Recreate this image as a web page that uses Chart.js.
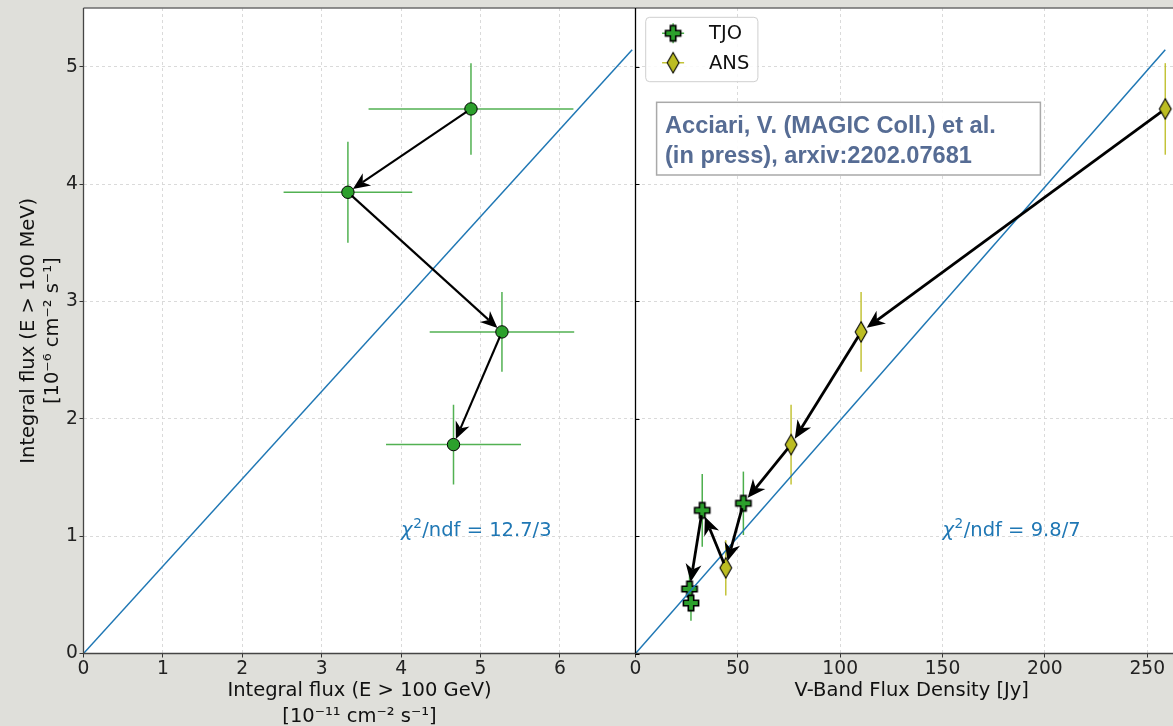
<!DOCTYPE html>
<html>
<head>
<meta charset="utf-8">
<script src="https://cdn.jsdelivr.net/npm/chart.js@4.4.1/dist/chart.umd.min.js"></script>
<style>
  html, body { margin: 0; padding: 0; background: #dfdfda; overflow: hidden; }
  #wrap { position: relative; width: 1173px; height: 726px; overflow: hidden; background: #dfdfda; }
  #wrap canvas { position: absolute; left: 0; top: 0; }
</style>
</head>
<body>
<div id="wrap">
  <canvas id="gammaChart" width="1173" height="730"></canvas>
  <canvas id="opticalChart" width="1190" height="730"></canvas>
</div>
<script>
// ---- HE (E > 100 MeV) flux vs VHE (E > 100 GeV) flux ----
const vheFlux    = [4.88, 3.33, 5.27, 4.66];
const vheFluxErr = [1.29, 0.81, 0.91, 0.85];
const heFlux     = [4.64, 3.93, 2.74, 1.78];
const heFluxErr  = [0.39, 0.43, 0.34, 0.34];
const gammaSequence = [0, 1, 2, 3];

// ---- HE flux vs optical V-band flux density ----
const tjoVband  = [26.4, 27.1, 32.6, 52.7];
const tjoHe     = [0.55, 0.43, 1.22, 1.28];
const tjoHeErr  = [0.19, 0.15, 0.31, 0.27];
const ansVband  = [44.1, 76.0, 110.2, 258.8];
const ansHe     = [0.73, 1.78, 2.74, 4.64];
const ansHeErr  = [0.235, 0.34, 0.34, 0.39];
const opticalSequence = [['ANS', 3], ['ANS', 2], ['ANS', 1], ['TJO', 3], ['ANS', 0], ['TJO', 2], ['TJO', 0]];

// linear correlation lines
const fitGammaX   = [0, 6.91];
const fitGammaY   = [0, 5.145];
const fitOpticalX = [0, 258.8];
const fitOpticalY = [0, 5.145];

// axis ticks
const heTicks       = [0, 1, 2, 3, 4, 5];
const vheTicks      = [0, 1, 2, 3, 4, 5, 6];
const vbandTicks    = [0, 50, 100, 150, 200, 250];

// fit quality labels
const chiGamma   = { x: 4.0, y: 1.0, value: '12.7/3' };
const chiOptical = { x: 150, y: 1.0, value: '9.8/7' };

const refText = ['Acciari, V. (MAGIC Coll.) et al.', '(in press), arxiv:2202.07681'];

// ---------------------------------------------------------------
const GREEN = '#2ca02c', OLIVE = '#bcbd22', BLUE = '#1f77b4';
const FONT = 'DejaVu Sans';
Chart.defaults.font.family = FONT;

function plusMarker() {
  const c = document.createElement('canvas');
  c.width = c.height = 20;
  const g = c.getContext('2d');
  const m = 10, a = 7.6, t = 2.7;
  g.beginPath();
  g.moveTo(m - t, m - a); g.lineTo(m + t, m - a); g.lineTo(m + t, m - t);
  g.lineTo(m + a, m - t); g.lineTo(m + a, m + t); g.lineTo(m + t, m + t);
  g.lineTo(m + t, m + a); g.lineTo(m - t, m + a); g.lineTo(m - t, m + t);
  g.lineTo(m - a, m + t); g.lineTo(m - a, m - t); g.lineTo(m - t, m - t);
  g.closePath();
  g.fillStyle = GREEN; g.fill();
  g.lineWidth = 1.6; g.strokeStyle = '#000'; g.lineJoin = 'miter'; g.stroke();
  return c;
}
function diamondMarker() {
  const c = document.createElement('canvas');
  c.width = 16; c.height = 24;
  const g = c.getContext('2d');
  const cx = 8, cy = 12, w = 5.9, h = 10.2;
  g.beginPath();
  g.moveTo(cx, cy - h); g.lineTo(cx + w, cy); g.lineTo(cx, cy + h); g.lineTo(cx - w, cy);
  g.closePath();
  g.fillStyle = OLIVE; g.fill();
  g.lineWidth = 1.1; g.strokeStyle = '#000'; g.lineJoin = 'miter'; g.stroke();
  return c;
}
const plusImg = plusMarker();
const diamondImg = diamondMarker();

// white plotting area
const areaBackground = {
  id: 'areaBackground',
  beforeDraw(chart) {
    const { ctx, chartArea: a } = chart;
    ctx.save();
    ctx.fillStyle = '#ffffff';
    ctx.fillRect(a.left, a.top, a.right - a.left, a.bottom - a.top);
    ctx.restore();
  }
};

// error bars from the dataset's errX / errY arrays
const errorBars = {
  id: 'errorBars',
  beforeDatasetsDraw(chart) {
    const { ctx } = chart;
    const xs = chart.scales.x, ys = chart.scales.y;
    chart.data.datasets.forEach(ds => {
      if (!ds.errX && !ds.errY) return;
      ctx.save();
      ctx.strokeStyle = ds.errColor;
      ctx.lineWidth = 1.5;
      ds.data.forEach((p, i) => {
        const cx = xs.getPixelForValue(p.x), cy = ys.getPixelForValue(p.y);
        ctx.beginPath();
        if (ds.errX) {
          ctx.moveTo(xs.getPixelForValue(p.x - ds.errX[i]), cy);
          ctx.lineTo(xs.getPixelForValue(p.x + ds.errX[i]), cy);
        }
        if (ds.errY) {
          ctx.moveTo(cx, ys.getPixelForValue(p.y - ds.errY[i]));
          ctx.lineTo(cx, ys.getPixelForValue(p.y + ds.errY[i]));
        }
        ctx.stroke();
      });
      ctx.restore();
    });
  }
};

function drawArrow(ctx, p0, p1, o) {
  const dx = p1[0] - p0[0], dy = p1[1] - p0[1];
  const L = Math.hypot(dx, dy), ux = dx / L, uy = dy / L, nx = -uy, ny = ux;
  const sx = p0[0] + ux * o.shrinkA, sy = p0[1] + uy * o.shrinkA;
  const tx = p1[0] - ux * o.shrinkB, ty = p1[1] - uy * o.shrinkB;
  const bx = tx - ux * o.headLength, by = ty - uy * o.headLength;
  const kx = tx - ux * o.headLength * 0.7, ky = ty - uy * o.headLength * 0.7;
  ctx.beginPath();
  ctx.moveTo(sx, sy); ctx.lineTo(kx, ky);
  ctx.lineWidth = o.width; ctx.strokeStyle = '#000'; ctx.lineCap = 'butt';
  ctx.stroke();
  ctx.beginPath();
  ctx.moveTo(tx, ty);
  ctx.lineTo(bx + nx * o.headWidth, by + ny * o.headWidth);
  ctx.lineTo(kx, ky);
  ctx.lineTo(bx - nx * o.headWidth, by - ny * o.headWidth);
  ctx.closePath();
  ctx.fillStyle = '#000';
  ctx.fill();
}

// arrows following the time order of the points
const timeArrows = {
  id: 'timeArrows',
  afterDatasetsDraw(chart, args, opts) {
    const { ctx } = chart;
    const xs = chart.scales.x, ys = chart.scales.y;
    const pts = opts.path.map(([label, i]) => {
      const ds = chart.data.datasets.find(d => d.label === label);
      const p = ds.data[i];
      return [xs.getPixelForValue(p.x), ys.getPixelForValue(p.y)];
    });
    ctx.save();
    for (let k = 0; k + 1 < pts.length; k++) drawArrow(ctx, pts[k], pts[k + 1], opts);
    ctx.restore();
  }
};

// chi-square annotation
const chiLabel = {
  id: 'chiLabel',
  afterDatasetsDraw(chart, args, opts) {
    const { ctx } = chart;
    const x = chart.scales.x.getPixelForValue(opts.x);
    const y = chart.scales.y.getPixelForValue(opts.y);
    ctx.save();
    ctx.fillStyle = BLUE;
    ctx.textAlign = 'left';
    ctx.textBaseline = 'alphabetic';
    ctx.font = `oblique 19.5px "${FONT}"`;
    ctx.fillText('χ', x, y);
    let w = ctx.measureText('χ').width + 0.5;
    ctx.font = `13.6px "${FONT}"`;
    ctx.fillText('2', x + w, y - 8.5);
    w += ctx.measureText('2').width + 0.5;
    ctx.font = `19.5px "${FONT}"`;
    ctx.fillText('/ndf = ' + opts.value, x + w, y);
    ctx.restore();
  }
};

// axes frame
const frame = {
  id: 'frame',
  afterDraw(chart, args, opts) {
    const { ctx, chartArea: a } = chart;
    ctx.save();
    ctx.lineWidth = 1.6; ctx.strokeStyle = '#6b6b6b';
    ctx.beginPath(); ctx.moveTo(a.left, a.top); ctx.lineTo(a.right, a.top); ctx.stroke();
    ctx.lineWidth = 1.3; ctx.strokeStyle = '#454545';
    ctx.beginPath(); ctx.moveTo(a.left, a.bottom); ctx.lineTo(a.right, a.bottom); ctx.stroke();
    ctx.strokeStyle = opts.leftColor; ctx.lineWidth = opts.leftWidth;
    ctx.beginPath(); ctx.moveTo(a.left, a.top); ctx.lineTo(a.left, a.bottom); ctx.stroke();
    if (opts.innerTicks) {
      ctx.strokeStyle = '#000'; ctx.lineWidth = 1;
      opts.innerTicks.forEach(v => {
        const y = Math.round(chart.scales.y.getPixelForValue(v)) + 0.5;
        ctx.beginPath(); ctx.moveTo(a.left, y); ctx.lineTo(a.left + 4, y); ctx.stroke();
      });
    }
    ctx.restore();
  }
};

// legend and reference box drawn inside the optical panel
const panelNotes = {
  id: 'panelNotes',
  afterDraw(chart) {
    const { ctx, chartArea: a } = chart;
    ctx.save();
    // legend
    const lx = a.left + 10.2, ly = a.top + 9.3, lw = 112.2, lh = 64.4;
    ctx.beginPath(); ctx.roundRect(lx, ly, lw, lh, 4);
    ctx.fillStyle = 'rgba(255,255,255,0.85)'; ctx.fill();
    ctx.strokeStyle = '#cfcfcf'; ctx.lineWidth = 1; ctx.stroke();
    const entries = chart.data.datasets.filter(d => d.legendImage);
    entries.forEach((d, k) => {
      const mx = lx + 27.4, my = ly + 16 + k * 29.4;
      ctx.strokeStyle = d.errColor; ctx.lineWidth = 1.4;
      ctx.beginPath();
      ctx.moveTo(mx - 11, my); ctx.lineTo(mx + 11, my);
      ctx.moveTo(mx, my - 10); ctx.lineTo(mx, my + 10);
      ctx.stroke();
      ctx.drawImage(d.legendImage, mx - d.legendImage.width / 2, my - d.legendImage.height / 2);
      ctx.fillStyle = '#111';
      ctx.font = `19.5px "${FONT}"`;
      ctx.textAlign = 'left'; ctx.textBaseline = 'middle';
      ctx.fillText(d.label, lx + 63.3, my + 1);
    });
    // reference box
    const bx = a.left + 21.1, by = 102.3, bw = 383.8, bh = 72.7;
    ctx.fillStyle = 'rgba(255,255,255,0.9)';
    ctx.fillRect(bx, by, bw, bh);
    ctx.strokeStyle = '#a9a9a9'; ctx.lineWidth = 1.5;
    ctx.strokeRect(bx, by, bw, bh);
    ctx.fillStyle = '#566c94';
    ctx.font = `bold 23.6px "Liberation Sans", Arial, sans-serif`;
    ctx.textAlign = 'left'; ctx.textBaseline = 'alphabetic';
    refText.forEach((t, k) => ctx.fillText(t, bx + 8.4, 132.7 + k * 30));
    ctx.restore();
  }
};

function tickFrom(list) {
  return scale => { scale.ticks = list.map(v => ({ value: v })); };
}
const tickFont = { family: FONT, size: 18.7 };
const titleFont = { family: FONT, size: 19.5, lineHeight: 26 / 19.5 };

function xScale(min, max, ticks, title, titlePadBottom) {
  return {
    type: 'linear', min, max,
    afterBuildTicks: tickFrom(ticks),
    afterFit: s => { s.height = 76.5; s.paddingLeft = 0; s.paddingRight = 0; },
    ticks: { font: tickFont, color: '#222', padding: 0, maxRotation: 0, autoSkip: false },
    grid: { color: '#d6d6d6', lineWidth: 0.9, tickLength: 4, tickColor: '#333', tickWidth: 1 },
    border: { display: false, dash: [3, 3] },
    title: { display: true, text: title, font: titleFont, color: '#111', padding: { top: 0, bottom: titlePadBottom } }
  };
}

// ---------------- gamma-gamma panel ----------------
new Chart(document.getElementById('gammaChart'), {
  type: 'scatter',
  data: {
    datasets: [
      {
        label: 'gamma',
        data: vheFlux.map((x, i) => ({ x, y: heFlux[i] })),
        errX: vheFluxErr, errY: heFluxErr, errColor: 'rgba(44,160,44,0.82)',
        pointStyle: 'circle', pointRadius: 6.2, pointBackgroundColor: GREEN,
        pointBorderColor: '#000', pointBorderWidth: 1, order: 2
      },
      {
        type: 'line', label: 'fit',
        data: fitGammaX.map((x, i) => ({ x, y: fitGammaY[i] })),
        borderColor: BLUE, borderWidth: 1.5, pointRadius: 0, fill: false, order: 1
      }
    ]
  },
  options: {
    responsive: false, animation: false, devicePixelRatio: 1, events: [],
    layout: { autoPadding: false, padding: { left: 0, top: 8, right: 1173 - 635.5, bottom: 0 } },
    scales: {
      x: xScale(0, 6.952, vheTicks, ['Integral flux (E > 100 GeV)', '[10⁻¹¹ cm⁻² s⁻¹]'], 0),
      y: {
        type: 'linear', min: 0, max: 5.5,
        afterBuildTicks: tickFrom(heTicks),
        afterFit: s => { s.width = 83.5; s.paddingTop = 0; s.paddingBottom = 0; },
        ticks: { font: tickFont, color: '#222', padding: 1.5 },
        grid: { color: '#d6d6d6', lineWidth: 0.9, tickLength: 4, tickColor: '#333', tickWidth: 1 },
        border: { display: false, dash: [3, 3] },
        title: {
          display: true, text: ['Integral flux (E > 100 MeV)', '[10⁻⁶ cm⁻² s⁻¹]'],
          font: { family: FONT, size: 19.5, lineHeight: 24 / 19.5 }, color: '#111',
          padding: { top: 17.3, bottom: 0 }
        }
      }
    },
    plugins: {
      legend: { display: false }, tooltip: { enabled: false },
      timeArrows: { path: gammaSequence.map(i => ['gamma', i]), width: 2.1, shrinkA: 5, shrinkB: 6, headLength: 17, headWidth: 7.5 },
      chiLabel: chiGamma,
      frame: { leftColor: '#454545', leftWidth: 1.3 }
    }
  },
  plugins: [areaBackground, errorBars, timeArrows, chiLabel, frame]
});

// ---------------- optical panel ----------------
new Chart(document.getElementById('opticalChart'), {
  type: 'scatter',
  data: {
    datasets: [
      {
        label: 'TJO',
        data: tjoVband.map((x, i) => ({ x, y: tjoHe[i] })),
        errY: tjoHeErr, errColor: 'rgba(44,160,44,0.85)',
        pointStyle: plusImg, legendImage: plusImg, pointRadius: 9, order: 2
      },
      {
        label: 'ANS',
        data: ansVband.map((x, i) => ({ x, y: ansHe[i] })),
        errY: ansHeErr, errColor: 'rgba(188,189,34,0.9)',
        pointStyle: diamondImg, legendImage: diamondImg, pointRadius: 9, order: 2
      },
      {
        type: 'line', label: 'fit',
        data: fitOpticalX.map((x, i) => ({ x, y: fitOpticalY[i] })),
        borderColor: BLUE, borderWidth: 1.5, pointRadius: 0, fill: false, order: 1
      }
    ]
  },
  options: {
    responsive: false, animation: false, devicePixelRatio: 1, events: [],
    layout: { autoPadding: false, padding: { left: 635.5, top: 8, right: 2, bottom: 0 } },
    scales: {
      x: xScale(0, 269.9, vbandTicks, 'V-Band Flux Density [Jy]', 26),
      y: {
        type: 'linear', min: 0, max: 5.5,
        afterBuildTicks: tickFrom(heTicks),
        afterFit: s => { s.width = 0; s.paddingTop = 0; s.paddingBottom = 0; },
        ticks: { display: false },
        grid: { color: '#d6d6d6', lineWidth: 0.9, drawTicks: false },
        border: { display: false, dash: [3, 3] }
      }
    },
    plugins: {
      legend: { display: false }, tooltip: { enabled: false },
      timeArrows: { path: opticalSequence, width: 2.8, shrinkA: 5, shrinkB: 7, headLength: 18, headWidth: 8 },
      chiLabel: chiOptical,
      frame: { leftColor: '#000', leftWidth: 1.3, innerTicks: heTicks }
    }
  },
  plugins: [areaBackground, errorBars, timeArrows, chiLabel, frame, panelNotes]
});
</script>
</body>
</html>
